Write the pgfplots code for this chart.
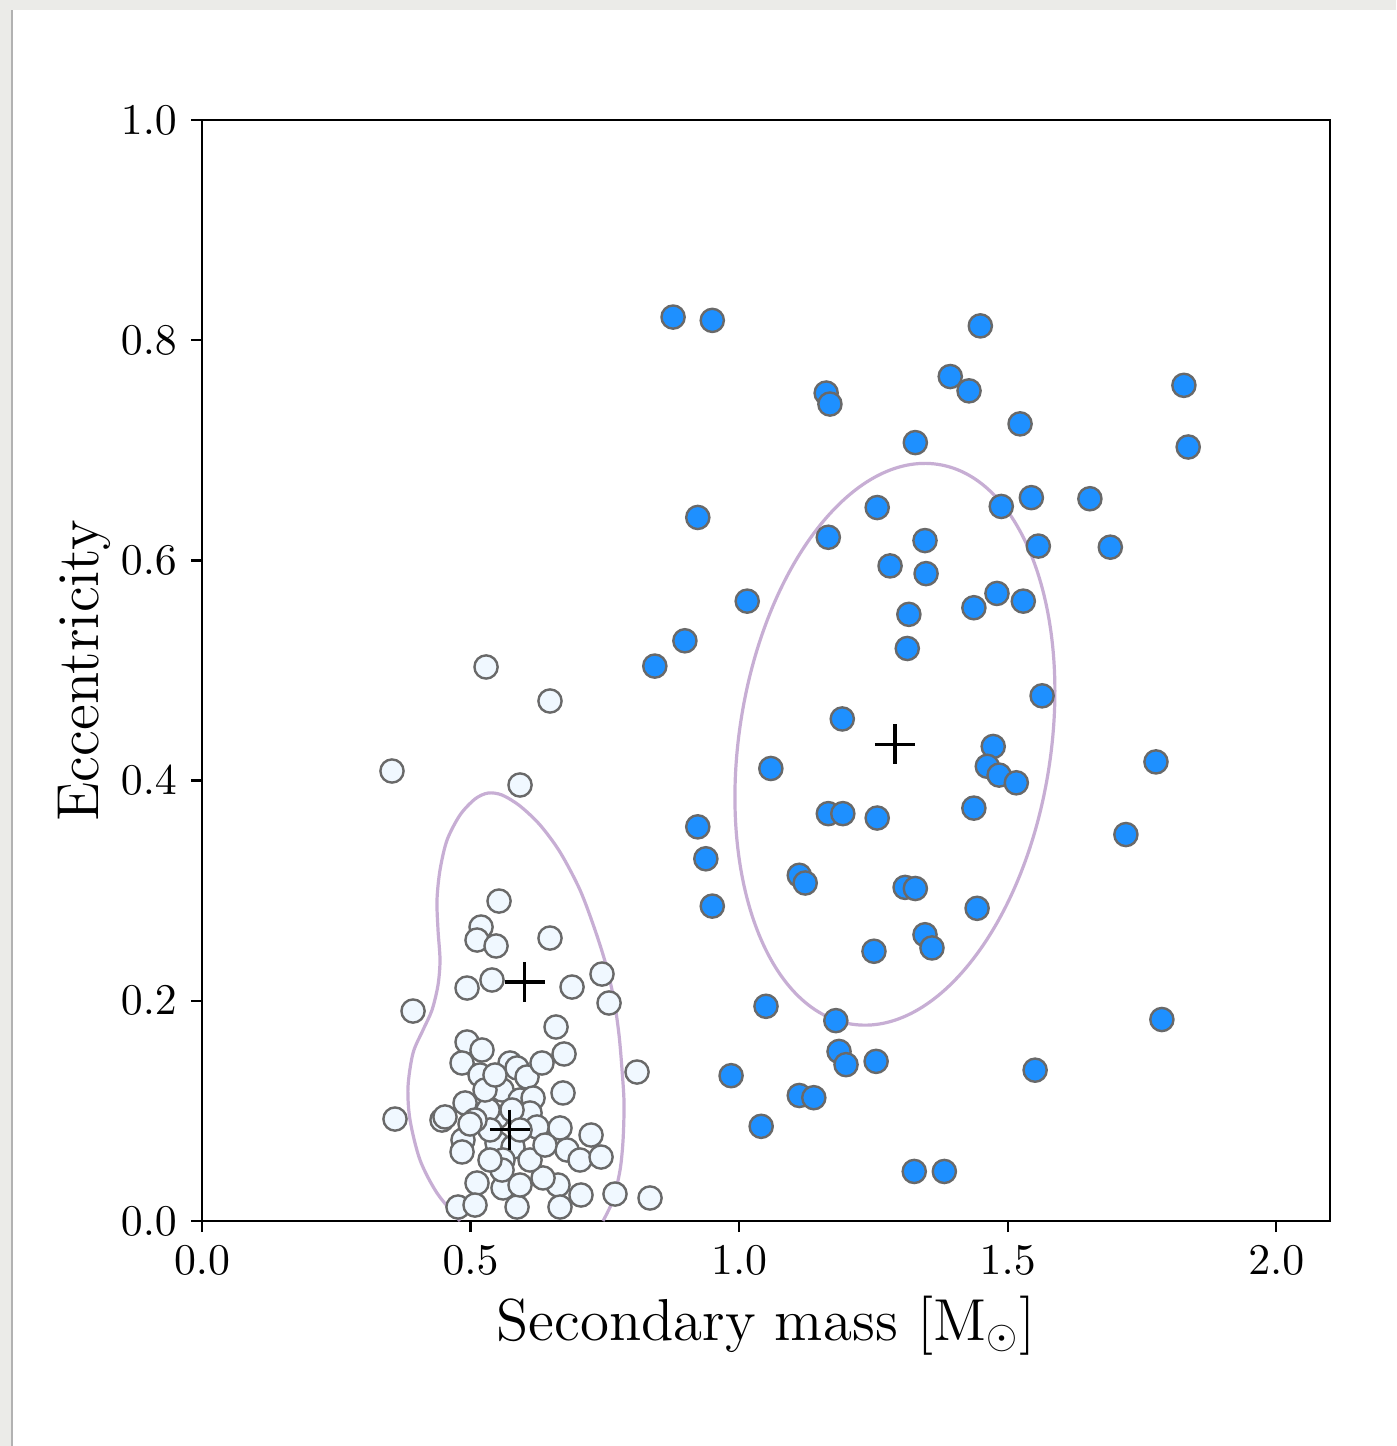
\documentclass[border=0pt]{standalone}
\usepackage{pgfplots}
\pgfplotsset{compat=1.18}

\definecolor{pageframe}{RGB}{235,235,232}
\definecolor{ptblue}{RGB}{30,144,255}
\definecolor{ptpale}{RGB}{240,248,255}
\definecolor{ptedge}{RGB}{105,105,105}
\definecolor{contourline}{RGB}{190,160,205}

\begin{document}
\begin{tikzpicture}
\useasboundingbox (0pt,0pt) rectangle (349pt,361.5pt);
\fill[pageframe] (0pt,0pt) rectangle (349pt,361.5pt);
\fill[white] (3pt,0pt) rectangle (349pt,359pt);
\draw[black!30, line width=0.5pt] (3.1pt,0pt) -- (3.1pt,359pt);

\begin{axis}[
  at={(50.5pt,56.25pt)}, anchor=south west,
  scale only axis, width=282pt, height=275.25pt,
  xmin=0, xmax=2.1, ymin=0, ymax=1,
  xtick={0,0.5,1,1.5,2}, ytick={0,0.2,0.4,0.6,0.8,1},
  xticklabel style={/pgf/number format/.cd,fixed,fixed zerofill,precision=1},
  yticklabel style={/pgf/number format/.cd,fixed,fixed zerofill,precision=1},
  tick label style={font=\fontsize{11.3}{13}\selectfont},
  tick align=outside, xtick pos=left, ytick pos=left,
  major tick length=2.75pt,
  every tick/.style={black, line width=0.6pt},
  axis line style={line width=0.6pt},
  label style={font=\fontsize{14.8}{17}\selectfont},
  xlabel={Secondary mass [M$_\odot$]},
  ylabel={Eccentricity},
  xlabel shift={-1.5pt},
  ylabel shift={-4.25pt},
]

% low-mass companions
\addplot[only marks, mark=*, mark size=2.9pt,
  mark options={fill=ptpale, draw=ptedge, line width=0.6pt}] coordinates {
(0.5288,0.5032) (0.6479,0.4723) (0.3537,0.4087) (0.5921,0.3960)
(0.5530,0.2906) (0.5195,0.2670) (0.5120,0.2552) (0.5474,0.2498)
(0.6479,0.2570) (0.4934,0.2116) (0.5399,0.2189) (0.6889,0.2125)
(0.7447,0.2243) (0.7578,0.1980) (0.3929,0.1907) (0.6591,0.1762)
(0.6740,0.1517) (0.8099,0.1353) (0.6721,0.1163) (0.3593,0.0926)
(0.6665,0.0845) (0.7243,0.0781) (0.6796,0.0645) (0.7038,0.0554)
(0.7429,0.0581) (0.7056,0.0236) (0.7689,0.0245) (0.8341,0.0209)
(0.6628,0.0327) (0.6665,0.0127) (0.5865,0.0127) (0.5120,0.0345)
(0.4766,0.0127) (0.5083,0.0145) (0.5604,0.0300) (0.6349,0.0391)
(0.4934,0.1626) (0.5213,0.1553) (0.4841,0.1435) (0.5176,0.1326)
(0.5735,0.1435) (0.5865,0.1390) (0.6051,0.1308) (0.6330,0.1435)
(0.4897,0.1072) (0.4468,0.0917) (0.5586,0.1190) (0.5921,0.1099)
(0.6163,0.1117) (0.4859,0.0736) (0.4841,0.0627) (0.5492,0.0945)
(0.6107,0.0981) (0.6237,0.0854) (0.5492,0.0708) (0.5790,0.0672)
(0.6107,0.0554) (0.5604,0.0554) (0.5586,0.0463) (0.5325,0.1008)
(0.5772,0.1008) (0.5362,0.0827) (0.5083,0.0917) (0.5921,0.0827)
(0.5269,0.1190) (0.5455,0.1326) (0.6386,0.0690) (0.5921,0.0327)
(0.5362,0.0554) (0.4990,0.0881) (0.4524,0.0945)
};

% high-mass companions
\addplot[only marks, mark=*, mark size=2.9pt,
  mark options={fill=ptblue, draw=ptedge, line width=0.6pt}] coordinates {
(0.877,0.821) (0.950,0.818) (1.449,0.813) (1.393,0.767) (1.428,0.754)
(1.162,0.752) (1.169,0.742) (1.828,0.759) (1.836,0.703) (1.523,0.724)
(1.328,0.707) (1.257,0.648) (0.923,0.639) (1.488,0.649) (1.544,0.657)
(1.653,0.656) (1.166,0.621) (1.346,0.618) (1.557,0.613) (1.691,0.612)
(1.281,0.595) (1.348,0.588) (1.015,0.563) (1.437,0.557) (1.480,0.570)
(1.529,0.563) (1.316,0.551) (0.899,0.527) (0.843,0.504) (1.313,0.520)
(1.192,0.456) (1.564,0.477) (1.059,0.411) (1.473,0.431) (1.462,0.413)
(1.484,0.405) (1.516,0.398) (1.776,0.417) (1.166,0.370) (1.193,0.370)
(1.257,0.366) (1.437,0.375) (0.923,0.358) (0.938,0.329) (1.720,0.351)
(1.112,0.314) (1.123,0.307) (1.309,0.303) (1.328,0.302) (0.950,0.286)
(1.443,0.284) (1.346,0.260) (1.359,0.248) (1.251,0.245) (1.050,0.195)
(1.180,0.182) (1.787,0.183) (1.186,0.154) (1.199,0.142) (1.255,0.145)
(0.985,0.132) (1.551,0.137) (1.112,0.114) (1.139,0.112) (1.041,0.086)
(1.326,0.045) (1.382,0.045)
};

% density contour of the low-mass group
\addplot[contourline, line width=0.8pt, opacity=0.85, smooth, tension=0.5] coordinates {
(0.4804,0) (0.4375,0.0254) (0.4059,0.0554) (0.3873,0.0917) (0.3835,0.1217)
(0.3929,0.1526) (0.4115,0.1735) (0.4282,0.1916) (0.4394,0.2144) (0.4431,0.2371)
(0.4394,0.2643) (0.4375,0.2916) (0.4431,0.3188) (0.4562,0.3460) (0.4804,0.3688)
(0.5083,0.3833) (0.5325,0.3887) (0.5586,0.3869) (0.5921,0.3769) (0.6293,0.3597)
(0.6665,0.3351) (0.7038,0.3006) (0.7317,0.2643) (0.7522,0.2325) (0.7671,0.2007)
(0.7764,0.1689) (0.7820,0.1371) (0.7857,0.1072) (0.7839,0.0736) (0.7783,0.0463)
(0.7652,0.0191) (0.7466,0)
};

% covariance ellipse of the high-mass group
\draw[contourline, line width=0.8pt, opacity=0.85,
  rotate around={-8.8:(axis cs:1.290,0.433)}]
  (axis cs:1.290,0.433) ellipse [x radius=38.95pt, y radius=70.8pt];

% group centroids
\addplot[only marks, mark=+, mark size=5pt,
  mark options={black, line width=0.8pt}] coordinates {
(1.290,0.433) (0.601,0.217) (0.573,0.083)
};

\end{axis}
\end{tikzpicture}
\end{document}
